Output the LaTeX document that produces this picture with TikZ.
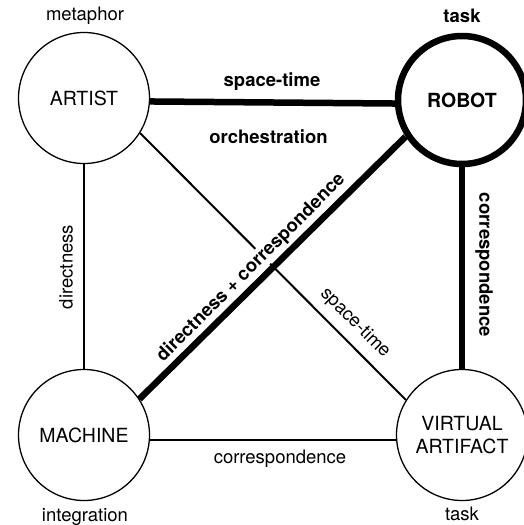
\documentclass[tikz,border=0pt]{standalone}
\usepackage{fontspec}
\setmainfont{TeX Gyre Heros}
\begin{document}
\begin{tikzpicture}[x=1pt,y=-1pt,
  hub/.style={circle, draw, line width=1.3pt, minimum size=131pt, inner sep=0pt, align=center, font=\fontsize{19.5}{23}\selectfont},
  boldhub/.style={hub, line width=6.5pt, minimum size=128pt, font=\fontsize{19.5}{23}\selectfont\bfseries},
  lab/.style={inner sep=0pt, font=\fontsize{18.5}{22}\selectfont},
  blab/.style={lab, font=\fontsize{18.5}{22}\selectfont\bfseries},
  thinl/.style={line width=2pt},
  thickl/.style={line width=6.5pt}
]
\useasboundingbox (0,0) rectangle (524,525);
\node[hub] (artist) at (84,98) {ARTIST};
\node[boldhub] (robot) at (462,100) {ROBOT};
\node[hub] (machine) at (84,435) {MACHINE};
\node[hub] (va) at (462,435) {VIRTUAL\\ARTIFACT};

\draw[thinl] (artist.-90) -- (machine.90);
\draw[thinl] (artist.-32.5) -- (va.148);
\draw[thinl] (machine.-4) -- (va.184);

\node[blab, rotate=45, fill=white, inner sep=1.5pt] (l9) at (251,268) {directness + correspondence};

\draw[thickl] (artist.-3) -- (robot.183);
\draw[thickl] (robot.213) -- (machine.33);
\draw[thickl] (robot.-90) -- (va.90);

\node[lab] (l1) at (85,16) {metaphor};
\node[blab] (l2) at (462,16) {task};
\node[lab] (l3) at (85,517) {integration};
\node[lab] (l4) at (462,514) {task};
\node[blab] (l5) at (272,82) {space-time};
\node[blab] (l6) at (268.5,137) {orchestration};
\node[lab, rotate=90] (l7) at (66,267) {directness};
\node[blab, rotate=-90] (l8) at (484,265) {correspondence};
\node[lab, rotate=-45] (l10) at (355,323) {space-time};
\node[lab] (l11) at (280,459) {correspondence};
\end{tikzpicture}
\end{document}
